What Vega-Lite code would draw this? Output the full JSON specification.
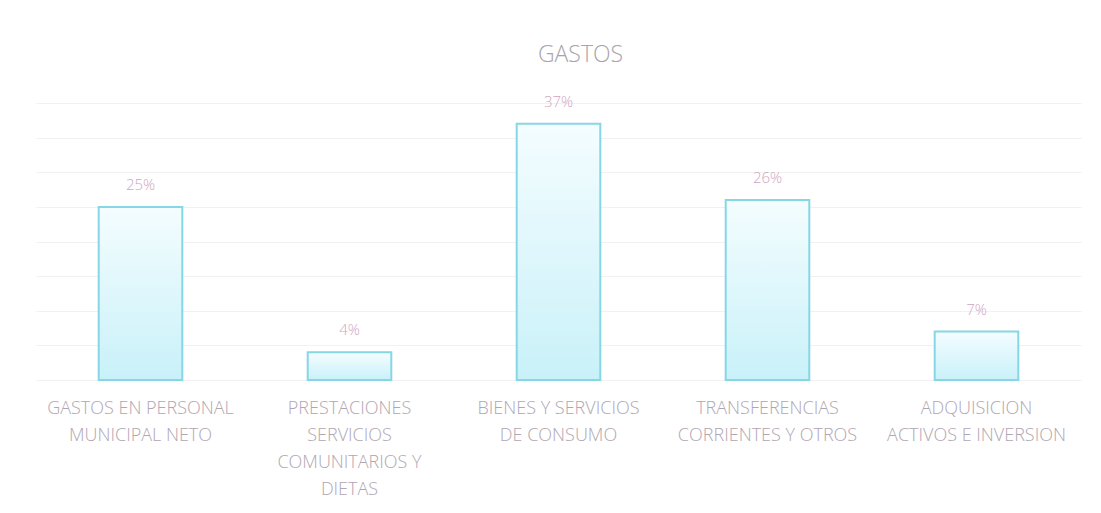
{
  "$schema": "https://vega.github.io/schema/vega-lite/v6.json",
  "width": 1045,
  "height": 277,
  "autosize": "none",
  "padding": {"left": 36, "top": 103, "right": 20, "bottom": 133},
  "background": "#ffffff",
  "title": {
    "text": "GASTOS",
    "font": "Open Sans",
    "fontSize": 23,
    "fontWeight": 300,
    "color": "#a9a3aa",
    "offset": 28,
    "dx": 22
  },
  "data": {
    "values": [
      {"categoria": "GASTOS EN PERSONAL|MUNICIPAL NETO", "valor": 25, "etiqueta": "25%"},
      {"categoria": "PRESTACIONES|SERVICIOS|COMUNITARIOS Y|DIETAS", "valor": 4, "etiqueta": "4%"},
      {"categoria": "BIENES Y SERVICIOS|DE CONSUMO", "valor": 37, "etiqueta": "37%"},
      {"categoria": "TRANSFERENCIAS|CORRIENTES Y OTROS", "valor": 26, "etiqueta": "26%"},
      {"categoria": "ADQUISICION|ACTIVOS E INVERSION", "valor": 7, "etiqueta": "7%"}
    ]
  },
  "encoding": {
    "x": {
      "field": "categoria",
      "type": "nominal",
      "sort": null,
      "scale": {"paddingInner": 0.6, "paddingOuter": 0.3},
      "axis": {
        "title": null,
        "domain": false,
        "ticks": false,
        "labelAngle": 0,
        "labelExpr": "split(datum.value, '|')",
        "labelFont": "Open Sans",
        "labelFontSize": 18,
        "labelFontWeight": 300,
        "labelColor": "#b0a6b2",
        "labelLineHeight": 27,
        "labelPadding": 19,
        "labelLimit": 0
      }
    },
    "y": {
      "field": "valor",
      "type": "quantitative",
      "scale": {"domain": [0, 40]},
      "axis": {
        "title": null,
        "labels": false,
        "ticks": false,
        "domain": false,
        "values": [0, 5, 10, 15, 20, 25, 30, 35, 40],
        "grid": true,
        "gridColor": "#f1f1f1",
        "gridWidth": 1
      }
    }
  },
  "layer": [
    {
      "mark": {
        "type": "bar",
        "stroke": "#86d6e6",
        "strokeWidth": 2,
        "fill": {
          "gradient": "linear",
          "x1": 0, "y1": 0, "x2": 0, "y2": 1,
          "stops": [
            {"offset": 0, "color": "#f4fdff"},
            {"offset": 1, "color": "#c9f1f9"}
          ]
        }
      }
    },
    {
      "mark": {
        "type": "text",
        "dy": -22,
        "font": "Open Sans",
        "fontSize": 15,
        "fontWeight": 300,
        "color": "#cfa6bf"
      },
      "encoding": {"text": {"field": "etiqueta"}}
    }
  ],
  "config": {"view": {"stroke": null}}
}
